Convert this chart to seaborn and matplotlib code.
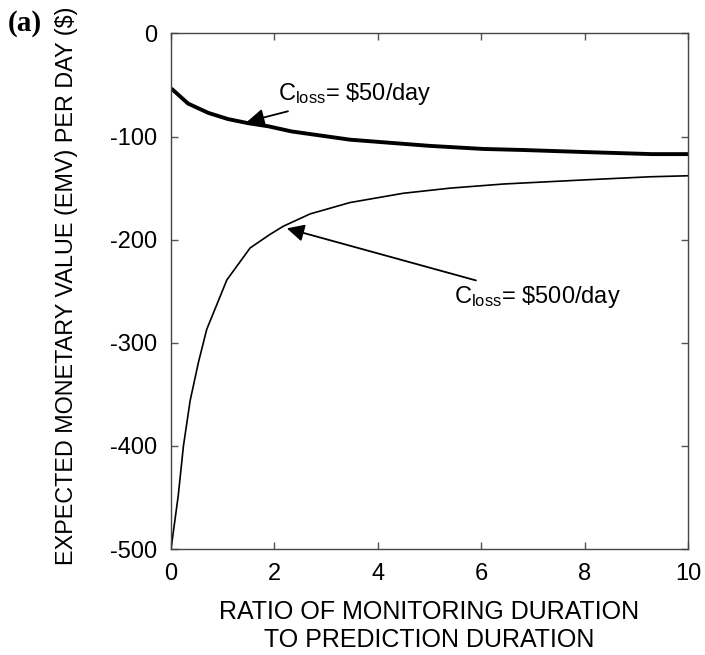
import matplotlib
matplotlib.use("Agg")
import pandas as pd
import seaborn as sns
import matplotlib.pyplot as plt

# C_loss = $50/day (thick curve)
ratio_50 = [0.02, 0.33, 0.72, 1.10, 1.49, 1.88, 2.33, 3.46, 5.0, 6.04, 6.8, 8.0, 9.3, 10.0]
emv_50 = [-54, -68, -77, -83, -87, -90, -95, -103, -109, -112, -113, -115, -117, -117]

# C_loss = $500/day (thin curve)
ratio_500 = [0.0, 0.14, 0.24, 0.37, 0.53, 0.69, 1.08, 1.53, 1.91, 2.17, 2.69, 3.46,
             4.49, 5.4, 6.43, 8.0, 9.26, 10.0]
emv_500 = [-500, -448, -400, -356, -319, -287, -239, -208, -195, -187, -175, -164,
           -155, -150, -146, -142, -139, -138]

x_ticks = [0, 2, 4, 6, 8, 10]
y_ticks = [0, -100, -200, -300, -400, -500]

sns.set_theme(style="ticks")
plt.rcParams['font.family'] = ['Liberation Sans', 'DejaVu Sans']
plt.rcParams['mathtext.fontset'] = 'custom'
plt.rcParams['mathtext.rm'] = 'Liberation Sans'
plt.rcParams['text.color'] = 'black'
plt.rcParams['axes.labelcolor'] = 'black'
plt.rcParams['xtick.labelcolor'] = 'black'
plt.rcParams['ytick.labelcolor'] = 'black'

df50 = pd.DataFrame({'ratio': ratio_50, 'emv': emv_50})
df500 = pd.DataFrame({'ratio': ratio_500, 'emv': emv_500})

fig = plt.figure(figsize=(7.05, 6.55), dpi=100)
ax = fig.add_axes([0.2426, 0.1618, 0.7333, 0.7871])

sns.lineplot(data=df50, x='ratio', y='emv', ax=ax, color='black', linewidth=2.8)
sns.lineplot(data=df500, x='ratio', y='emv', ax=ax, color='black', linewidth=1.2)

ax.set_xlim(0, 10)
ax.set_ylim(-500, 0)
ax.set_xticks(x_ticks)
ax.set_yticks(y_ticks)
ax.set_yticklabels([str(v) for v in y_ticks])
ax.tick_params(direction='in', length=5, width=1, top=True, right=True,
               labelsize=17, pad=10, color='#555555')
for s in ax.spines.values():
    s.set_color('#444444')
    s.set_linewidth(1.0)

ax.set_xlabel("RATIO OF MONITORING DURATION\nTO PREDICTION DURATION", fontsize=18,
              linespacing=1.2, labelpad=11)
ax.set_ylabel("EXPECTED MONETARY VALUE (EMV) PER DAY ($)", fontsize=16.8, labelpad=23)
ax.yaxis.label.set_y(0.51)

ax.annotate(r'$\mathregular{C_{loss}}$= \$50/day', xy=(1.47, -85.6), xytext=(2.06, -59),
            fontsize=17, va='center', ha='left',
            arrowprops=dict(arrowstyle='-|>', color='black', lw=1.3,
                            mutation_scale=26, shrinkA=2, shrinkB=0))
ax.annotate(r'$\mathregular{C_{loss}}$= \$500/day', xy=(2.24, -189), xytext=(5.48, -256),
            fontsize=17, va='center', ha='left',
            arrowprops=dict(arrowstyle='-|>', color='black', lw=1.3,
                            mutation_scale=26, shrinkA=2, shrinkB=0))

fig.text(0.011, 0.985, "(a)", fontsize=21, fontweight='bold',
         family=['Liberation Serif'], va='top', ha='left')

fig.savefig("out.png", dpi=100)
